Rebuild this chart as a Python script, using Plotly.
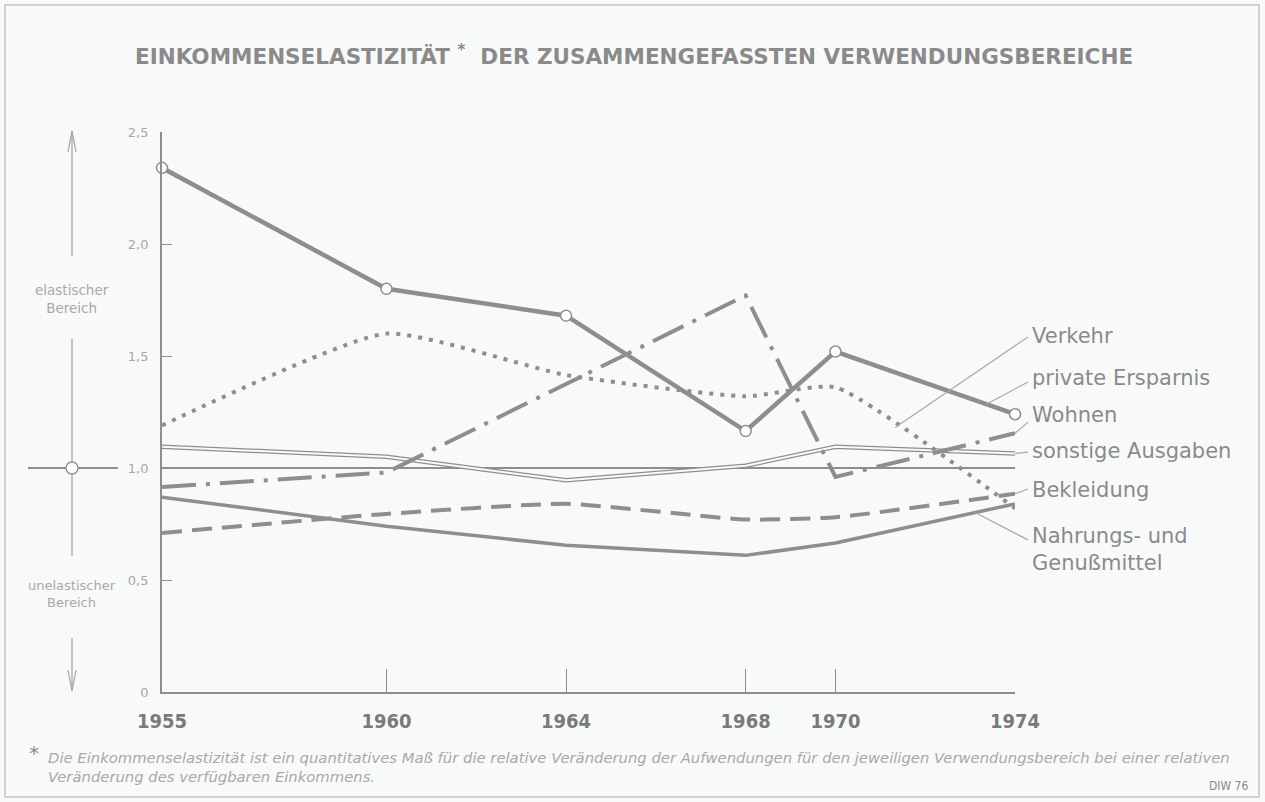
import numpy as np
import plotly.graph_objects as go

# ---------------- data ----------------
years = [1955, 1960, 1964, 1968, 1970, 1974]
year_labels = ["1955", "1960", "1964", "1968", "1970", "1974"]

private_ersparnis = [2.34, 1.80, 1.68, 1.165, 1.52, 1.24]
verkehr = [1.19, 1.60, 1.415, 1.32, 1.36, 0.82]
wohnen = [0.915, 0.98, 1.375, 1.77, 0.96, 1.155]
sonstige_ausgaben = [1.095, 1.05, 0.945, 1.01, 1.095, 1.065]
bekleidung = [0.71, 0.795, 0.84, 0.77, 0.78, 0.885]
nahrung = [0.87, 0.74, 0.655, 0.61, 0.665, 0.84]

y_tickvals = [0, 0.5, 1.0, 1.5, 2.0, 2.5]
y_ticktext = ["0", "0,5", "1,0", "1,5", "2,0", "2,5"]

series_names = ["Verkehr", "private Ersparnis", "Wohnen", "sonstige Ausgaben",
                "Bekleidung", "Nahrungs- und<br>Genußmittel"]
series_values = [verkehr, private_ersparnis, wohnen, sonstige_ausgaben, bekleidung, nahrung]
label_values = [1.589, 1.402, 1.237, 1.076, 0.902, 0.638]      # label text positions (value scale)
leader_start_values = [1.585, 1.384, 1.205, 1.071, 0.906, 0.679]
leader_end_years = [1971.33, 1973.36, 1974.0, 1974.0, 1974.0, 1973.11]

# ---------------- layout geometry ----------------
W, H = 1265, 802
L, R, T, B = 162, 250, 132, 110
PW, PH = W - L - R, H - T - B
XMIN, XMAX, YMIN, YMAX = 1955, 1974, 0.0, 2.5

def px_x(px):
    return (px - L) / PW

def px_y(py):
    return (H - B - py) / PH

def dx(year):
    return (year - XMIN) / (XMAX - XMIN)

def dy(val):
    return (val - YMIN) / (YMAX - YMIN)

GRAY = "#8e8e8e"
TXT = "#8a8a8a"
LIGHT = "#a8a8a8"
BG = "#f8fafa"

fig = go.Figure()

# reference line at 1,0
fig.add_shape(type="line", xref="x", yref="y", x0=XMIN, x1=XMAX, y0=1.0, y1=1.0,
              line=dict(color=GRAY, width=2), layer="below")

# sonstige Ausgaben (double line)
fig.add_trace(go.Scatter(x=years, y=sonstige_ausgaben, mode="lines",
                         line=dict(color=GRAY, width=4.5), cliponaxis=False, showlegend=False))
fig.add_trace(go.Scatter(x=years, y=sonstige_ausgaben, mode="lines",
                         line=dict(color=BG, width=2), cliponaxis=False, showlegend=False))
# Nahrungs- und Genußmittel
fig.add_trace(go.Scatter(x=years, y=nahrung, mode="lines",
                         line=dict(color=GRAY, width=3.5), cliponaxis=False, showlegend=False))
# Bekleidung
fig.add_trace(go.Scatter(x=years, y=bekleidung, mode="lines",
                         line=dict(color=GRAY, width=4, dash="20px,10px", shape="spline", smoothing=0.5),
                         cliponaxis=False, showlegend=False))
# Verkehr
fig.add_trace(go.Scatter(x=years, y=verkehr, mode="lines",
                         line=dict(color=GRAY, width=4, dash="4px,7px", shape="spline", smoothing=0.5),
                         cliponaxis=False, showlegend=False))
# Wohnen
fig.add_trace(go.Scatter(x=years, y=wohnen, mode="lines",
                         line=dict(color=GRAY, width=4, dash="34px,10px,4px,10px"),
                         cliponaxis=False, showlegend=False))
# private Ersparnis
fig.add_trace(go.Scatter(x=years, y=private_ersparnis, mode="lines+markers",
                         line=dict(color=GRAY, width=4.5),
                         marker=dict(symbol="circle", size=11, color="white",
                                     line=dict(color=GRAY, width=1.5)),
                         cliponaxis=False, showlegend=False))

# right-hand labels with leader lines
for name, vals, ly, sy, ey in zip(series_names, series_values, label_values,
                                  leader_start_values, leader_end_years):
    yend = float(np.interp(ey, years, vals))
    fig.add_shape(type="line", xref="paper", yref="paper",
                  x0=px_x(1028), y0=dy(sy), x1=dx(ey), y1=dy(yend),
                  line=dict(color=LIGHT, width=1.2))
    fig.add_annotation(xref="paper", yref="paper", x=px_x(1030), y=dy(ly),
                       text=name, showarrow=False, xanchor="left", yanchor="middle",
                       align="left", font=dict(family="DejaVu Sans", size=21, color=TXT))

# title
fig.add_annotation(xref="paper", yref="paper", x=px_x(634), y=px_y(55),
                   text="EINKOMMENSELASTIZITÄT <sup>*</sup>  DER ZUSAMMENGEFASSTEN VERWENDUNGSBEREICHE",
                   showarrow=False, xanchor="center", yanchor="middle",
                   font=dict(family="DejaVu Sans", size=21.5, color=TXT, weight="bold"))

# left side explanation: arrows and cross
cx = px_x(72)
deco = dict(color=LIGHT, width=1.3)
fig.add_shape(type="line", xref="paper", yref="paper", x0=cx, x1=cx, y0=px_y(256), y1=px_y(131), line=deco)
fig.add_shape(type="line", xref="paper", yref="paper", x0=px_x(68), x1=cx, y0=px_y(152), y1=px_y(131), line=deco)
fig.add_shape(type="line", xref="paper", yref="paper", x0=px_x(76), x1=cx, y0=px_y(152), y1=px_y(131), line=deco)
fig.add_shape(type="line", xref="paper", yref="paper", x0=cx, x1=cx, y0=px_y(638), y1=px_y(691), line=deco)
fig.add_shape(type="line", xref="paper", yref="paper", x0=px_x(68), x1=cx, y0=px_y(670), y1=px_y(691), line=deco)
fig.add_shape(type="line", xref="paper", yref="paper", x0=px_x(76), x1=cx, y0=px_y(670), y1=px_y(691), line=deco)
fig.add_shape(type="line", xref="paper", yref="paper", x0=cx, x1=cx, y0=px_y(339), y1=px_y(556), line=deco)
fig.add_shape(type="line", xref="paper", yref="paper", x0=px_x(28), x1=px_x(118), y0=dy(1.0), y1=dy(1.0),
              line=dict(color=GRAY, width=1.8))
fig.add_shape(type="circle", xref="paper", yref="paper", x0=px_x(66), x1=px_x(78),
              y0=px_y(474), y1=px_y(462), line=dict(color=GRAY, width=1.3), fillcolor="white")
fig.add_annotation(xref="paper", yref="paper", x=cx, y=px_y(299), text="elastischer<br>Bereich",
                   showarrow=False, xanchor="center", yanchor="middle",
                   font=dict(family="DejaVu Sans", size=13.5, color=LIGHT))
fig.add_annotation(xref="paper", yref="paper", x=cx, y=px_y(594), text="unelastischer<br>Bereich",
                   showarrow=False, xanchor="center", yanchor="middle",
                   font=dict(family="DejaVu Sans", size=13, color=LIGHT))

# footnote
fig.add_annotation(xref="paper", yref="paper", x=px_x(27), y=px_y(753), text="*",
                   showarrow=False, xanchor="left", yanchor="middle",
                   font=dict(family="DejaVu Sans", size=20, color=TXT))
fig.add_annotation(xref="paper", yref="paper", x=px_x(46), y=px_y(767),
                   text="<i>Die Einkommenselastizität ist ein quantitatives Maß für die relative Veränderung der Aufwendungen für den jeweiligen Verwendungsbereich bei einer relativen<br>Veränderung des verfügbaren Einkommens.</i>",
                   showarrow=False, xanchor="left", yanchor="middle", align="left",
                   font=dict(family="DejaVu Sans", size=14.8, color=LIGHT))
fig.add_annotation(xref="paper", yref="paper", x=px_x(1250), y=px_y(786), text="DIW 76",
                   showarrow=False, xanchor="right", yanchor="middle",
                   font=dict(family="DejaVu Sans Condensed, DejaVu Sans", size=12, color=TXT))

# outer frame
fig.add_shape(type="rect", xref="paper", yref="paper", x0=px_x(5), x1=px_x(1259),
              y0=px_y(797), y1=px_y(5), line=dict(color="#c4c4c4", width=1.5))

fig.update_layout(
    width=W, height=H,
    margin=dict(l=L, r=R, t=T, b=B, pad=0),
    paper_bgcolor=BG, plot_bgcolor=BG,
    showlegend=False,
    xaxis=dict(range=[XMIN, XMAX], tickvals=years, ticktext=year_labels,
               ticks="inside", ticklen=23, tickwidth=1.3, tickcolor=GRAY,
               showline=True, linecolor=GRAY, linewidth=1.8, showgrid=False, zeroline=False,
               ticklabelstandoff=10,
               tickfont=dict(family="DejaVu Sans Condensed, DejaVu Sans", size=20,
                             color="#7a7a7a", weight="bold")),
    yaxis=dict(range=[YMIN, YMAX], tickvals=y_tickvals, ticktext=y_ticktext,
               ticks="inside", ticklen=10, tickwidth=1.3, tickcolor=GRAY,
               showline=True, linecolor=GRAY, linewidth=1.8, showgrid=False, zeroline=False,
               ticklabelstandoff=9,
               tickfont=dict(family="DejaVu Sans", size=13, color=LIGHT)),
)

fig.write_html("out.html", config={"displayModeBar": False},
               post_script="document.body.style.margin='0';")
